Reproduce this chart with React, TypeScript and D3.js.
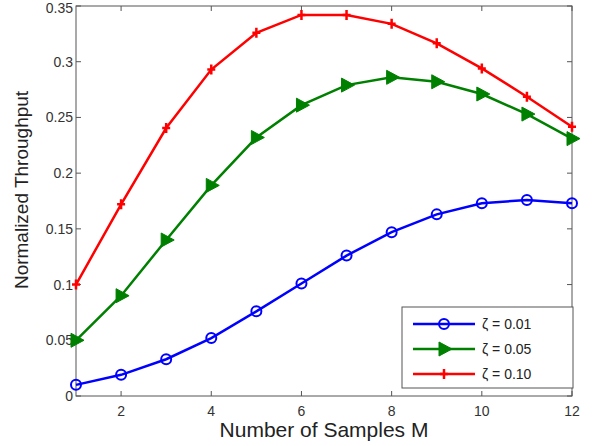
import React from "react";
import * as d3 from "d3";

const samples = [1, 2, 3, 4, 5, 6, 7, 8, 9, 10, 11, 12];
const zeta001 = [0.01, 0.019, 0.033, 0.052, 0.076, 0.101, 0.126, 0.147, 0.163, 0.173, 0.176, 0.173];
const zeta005 = [0.05, 0.09, 0.14, 0.189, 0.232, 0.261, 0.279, 0.286, 0.282, 0.271, 0.253, 0.231];
const zeta010 = [0.1, 0.172, 0.2405, 0.293, 0.326, 0.342, 0.342, 0.334, 0.3165, 0.294, 0.2686, 0.2417];
const xTicks = [2, 4, 6, 8, 10, 12];
const yTicks = [0, 0.05, 0.1, 0.15, 0.2, 0.25, 0.3, 0.35];
const seriesLabels = ["ζ = 0.01", "ζ = 0.05", "ζ = 0.10"];
const colors = ["#0000ff", "#008000", "#ff0000"];

const W = 602, H = 446;
const L = 76, R = 572, T = 6, B = 396;

export default function App() {
  const x = d3.scaleLinear().domain([1, 12]).range([L, R]);
  const y = d3.scaleLinear().domain([0, 0.35]).range([B, T]);
  const line = d3.line<number>().x((_, i) => x(samples[i])).y((d) => y(d));
  const series = [zeta001, zeta005, zeta010];
  const font = "'Liberation Sans', Arial, sans-serif";

  const marker = (k: number, cx: number, cy: number, key: string) => {
    if (k === 0)
      return <circle key={key} cx={cx} cy={cy} r={5} fill="none" stroke={colors[0]} strokeWidth={2} />;
    if (k === 1)
      return (
        <path key={key} d={`M${cx - 5},${cy - 7} L${cx + 8},${cy} L${cx - 5},${cy + 7} Z`} fill={colors[1]} stroke={colors[1]} strokeWidth={1} />
      );
    return (
      <path key={key} d={`M${cx - 4},${cy} L${cx + 4},${cy} M${cx},${cy - 5} L${cx},${cy + 5}`} stroke={colors[2]} strokeWidth={2.5} />
    );
  };

  const legX = 402, legY = 307, legW = 171, legH = 81;
  const rows = [324, 349, 374];

  return (
    <svg width={W} height={H} style={{ position: "absolute", left: 0, top: 0, background: "#fff" }} fontFamily={font}>
      <rect x={0} y={0} width={W} height={H} fill="#fff" />
      {/* ticks */}
      {xTicks.map((t) => (
        <g key={"xt" + t}>
          <line x1={x(t)} x2={x(t)} y1={B} y2={B - 5} stroke="#555" />
          <line x1={x(t)} x2={x(t)} y1={T} y2={T + 5} stroke="#555" />
          <text x={x(t)} y={B + 20} textAnchor="middle" fontSize={14} fill="#333">{t}</text>
        </g>
      ))}
      {yTicks.map((t) => (
        <g key={"yt" + t}>
          <line x1={L} x2={L + 5} y1={y(t)} y2={y(t)} stroke="#555" />
          <line x1={R} x2={R - 5} y1={y(t)} y2={y(t)} stroke="#555" />
          <text x={L - 3} y={Math.max(y(t) + 5, 13)} textAnchor="end" fontSize={14} fill="#333">{String(t)}</text>
        </g>
      ))}
      <rect x={L} y={T} width={R - L} height={B - T} fill="none" stroke="#555" strokeWidth={1} />
      {/* series */}
      {series.map((s, k) => (
        <g key={"s" + k}>
          <path d={line(s) || ""} fill="none" stroke={colors[k]} strokeWidth={2.5} />
          {s.map((v, i) => marker(k, x(samples[i]), y(v), `m${k}-${i}`))}
        </g>
      ))}
      {/* legend */}
      <rect x={legX} y={legY} width={legW} height={legH} fill="#fff" stroke="#555" strokeWidth={1} />
      {rows.map((ry, k) => (
        <g key={"l" + k}>
          <line x1={413} x2={475} y1={ry} y2={ry} stroke={colors[k]} strokeWidth={2.5} />
          {marker(k, 444, ry, "lm" + k)}
          <text x={482} y={ry + 5} fontSize={14} fill="#222">{seriesLabels[k]}</text>
        </g>
      ))}
      {/* axis labels */}
      <text x={324} y={437} textAnchor="middle" fontSize={21} fill="#222">Number of Samples M</text>
      <text transform={`translate(28,190) rotate(-90)`} textAnchor="middle" fontSize={19} fill="#222">Normalized Throughput</text>
    </svg>
  );
}
